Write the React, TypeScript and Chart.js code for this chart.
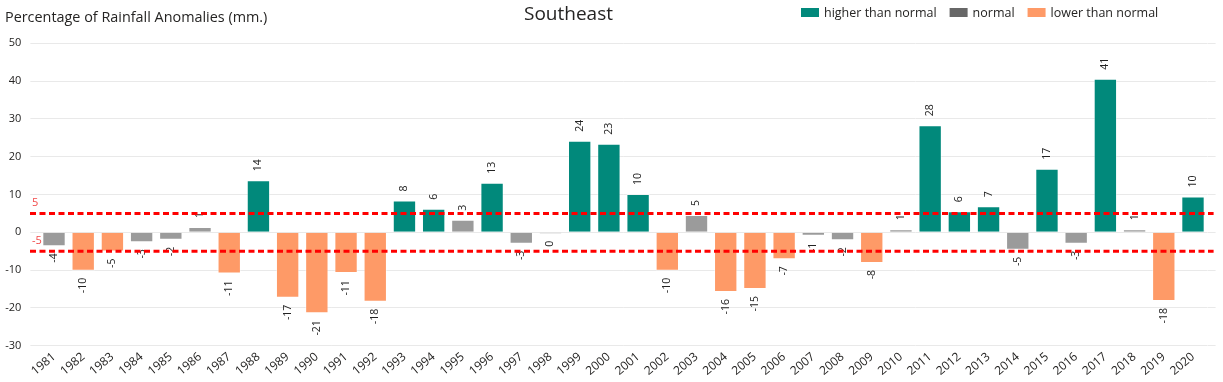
import React, { useEffect, useRef } from "react";
import { Chart, registerables } from "chart.js";

Chart.register(...registerables);

const years = [
  "1981", "1982", "1983", "1984", "1985", "1986", "1987", "1988", "1989", "1990",
  "1991", "1992", "1993", "1994", "1995", "1996", "1997", "1998", "1999", "2000",
  "2001", "2002", "2003", "2004", "2005", "2006", "2007", "2008", "2009", "2010",
  "2011", "2012", "2013", "2014", "2015", "2016", "2017", "2018", "2019", "2020",
];

const anomalies = [
  -3.7, -10.2, -5.1, -2.6, -2.0, 1.4, -10.9, 13.8, -17.3, -21.4,
  -10.8, -18.4, 8.4, 6.2, 3.3, 13.1, -3.0, -0.4, 24.2, 23.4,
  10.1, -10.2, 4.6, -15.8, -15.0, -7.1, -0.9, -2.1, -8.1, 0.8,
  28.3, 5.6, 6.9, -4.6, 16.8, -3.0, 40.6, 0.8, -18.2, 9.5,
];

const normalLimit = 5;
const yMin = -30;
const yMax = 50;
const yStep = 10;

const seriesNames = ["higher than normal", "normal", "lower than normal"];
const barColors = ["#01897B", "#9B9B9B", "#FE9A67"];
const legendColors = ["#01897B", "#676767", "#FE9A67"];

const chartTitle = "Southeast";
const yTitle = "Percentage of Rainfall Anomalies (mm.)";

const FONT = "'Open Sans', 'Noto Sans', sans-serif";
const TEXT = "#252423";

export default function App() {
  const ref = useRef<HTMLCanvasElement | null>(null);

  useEffect(() => {
    document.body.style.margin = "0";
    const canvas = ref.current;
    if (!canvas) return;

    const higher = anomalies.map((v) => (v >= normalLimit ? v : null));
    const normal = anomalies.map((v) => (Math.abs(v) < normalLimit ? v : null));
    const lower = anomalies.map((v) => (v <= -normalLimit ? v : null));

    const overlay = {
      id: "overlay",
      afterDatasetsDraw(chart: any) {
        const ctx = chart.ctx;
        const ys = chart.scales.y;
        const area = chart.chartArea;
        // data labels
        ctx.save();
        ctx.font = `10.5px ${FONT}`;
        ctx.fillStyle = "#222";
        ctx.textBaseline = "middle";
        chart.data.datasets.forEach((ds: any, di: number) => {
          const meta = chart.getDatasetMeta(di);
          meta.data.forEach((bar: any, i: number) => {
            const v = ds.data[i];
            if (v === null || v === undefined) return;
            const txt = String(Math.round(v));
            ctx.save();
            if (v >= 0) {
              ctx.translate(bar.x, bar.y - 9);
              ctx.rotate(-Math.PI / 2);
              ctx.textAlign = "left";
            } else {
              ctx.translate(bar.x, bar.y + 7);
              ctx.rotate(-Math.PI / 2);
              ctx.textAlign = "right";
            }
            ctx.fillText(txt === "-0" ? "0" : txt, 0, 0);
            ctx.restore();
          });
        });
        ctx.restore();

        // dashed threshold lines
        ctx.save();
        ctx.strokeStyle = "#FF0000";
        ctx.lineWidth = 3;
        ctx.setLineDash([6, 3.5]);
        [normalLimit, -normalLimit].forEach((t) => {
          const py = ys.getPixelForValue(t);
          ctx.beginPath();
          ctx.moveTo(30, py);
          ctx.lineTo(area.right + 6, py);
          ctx.stroke();
        });
        ctx.setLineDash([]);
        ctx.font = `11px ${FONT}`;
        ctx.fillStyle = "#F24A4A";
        ctx.textAlign = "left";
        ctx.textBaseline = "middle";
        ctx.fillText(String(normalLimit), 32, ys.getPixelForValue(normalLimit) - 10.5);
        ctx.fillText(String(-normalLimit), 32, ys.getPixelForValue(-normalLimit) - 10.5);
        ctx.restore();
      },
      afterDraw(chart: any) {
        const ctx = chart.ctx;
        ctx.save();
        // title
        ctx.font = `19px ${FONT}`;
        ctx.fillStyle = TEXT;
        ctx.textAlign = "center";
        ctx.textBaseline = "middle";
        ctx.fillText(chartTitle, 568.5, 15);
        // y title
        ctx.font = `14.4px ${FONT}`;
        ctx.fillStyle = TEXT;
        ctx.textAlign = "left";
        ctx.fillText(yTitle, 5, 18);
        // legend
        ctx.font = `12.5px ${FONT}`;
        let x = 801;
        seriesNames.forEach((name, i) => {
          ctx.fillStyle = legendColors[i];
          ctx.fillRect(x, 8, 18, 9);
          ctx.fillStyle = TEXT;
          ctx.fillText(name, x + 23, 13);
          x += 23 + ctx.measureText(name).width + 13;
        });
        ctx.restore();
      },
    };

    const mk = (i: number, data: (number | null)[]) => ({
      label: seriesNames[i],
      data,
      backgroundColor: barColors[i],
      borderColor: "rgba(255,255,255,0.45)",
      borderWidth: 1,
      categoryPercentage: 0.8,
      barPercentage: 1,
    });

    const chart = new Chart(canvas, {
      type: "bar",
      data: {
        labels: years,
        datasets: [mk(0, higher), mk(1, normal), mk(2, lower)],
      },
      plugins: [overlay],
      options: {
        responsive: false,
        animation: false,
        layout: { padding: { top: 43.3, right: 7.4, bottom: 0, left: 0 } },
        plugins: {
          legend: { display: false },
          title: { display: false },
          tooltip: { enabled: false },
        },
        scales: {
          x: {
            type: "category",
            stacked: true,
            offset: true,
            afterFit: (s: any) => {
              s.height = 36.3;
            },
            grid: { display: false, drawTicks: false },
            border: { display: false },
            ticks: {
              autoSkip: false,
              maxRotation: 40,
              minRotation: 40,
              padding: 4,
              color: TEXT,
              font: { family: FONT, size: 12 },
            },
          },
          y: {
            stacked: true,
            min: yMin,
            max: yMax,
            afterFit: (s: any) => {
              s.width = 39.4;
            },
            grid: { color: "#E9E9E9", tickLength: 9, lineWidth: 1 },
            border: { display: false },
            ticks: {
              stepSize: yStep,
              padding: 9,
              color: TEXT,
              font: { family: FONT, size: 11 },
            },
          },
          y2: {
            position: "right",
            min: yMin,
            max: yMax,
            grid: { color: "#E9E9E9", tickLength: 8, drawOnChartArea: false },
            border: { display: false },
            ticks: { stepSize: yStep, display: false },
          },
        },
      } as any,
    });

    return () => chart.destroy();
  }, []);

  return (
    <div style={{ width: 1223, height: 382, background: "#fff" }}>
      <canvas ref={ref} width={1223} height={382} />
    </div>
  );
}
